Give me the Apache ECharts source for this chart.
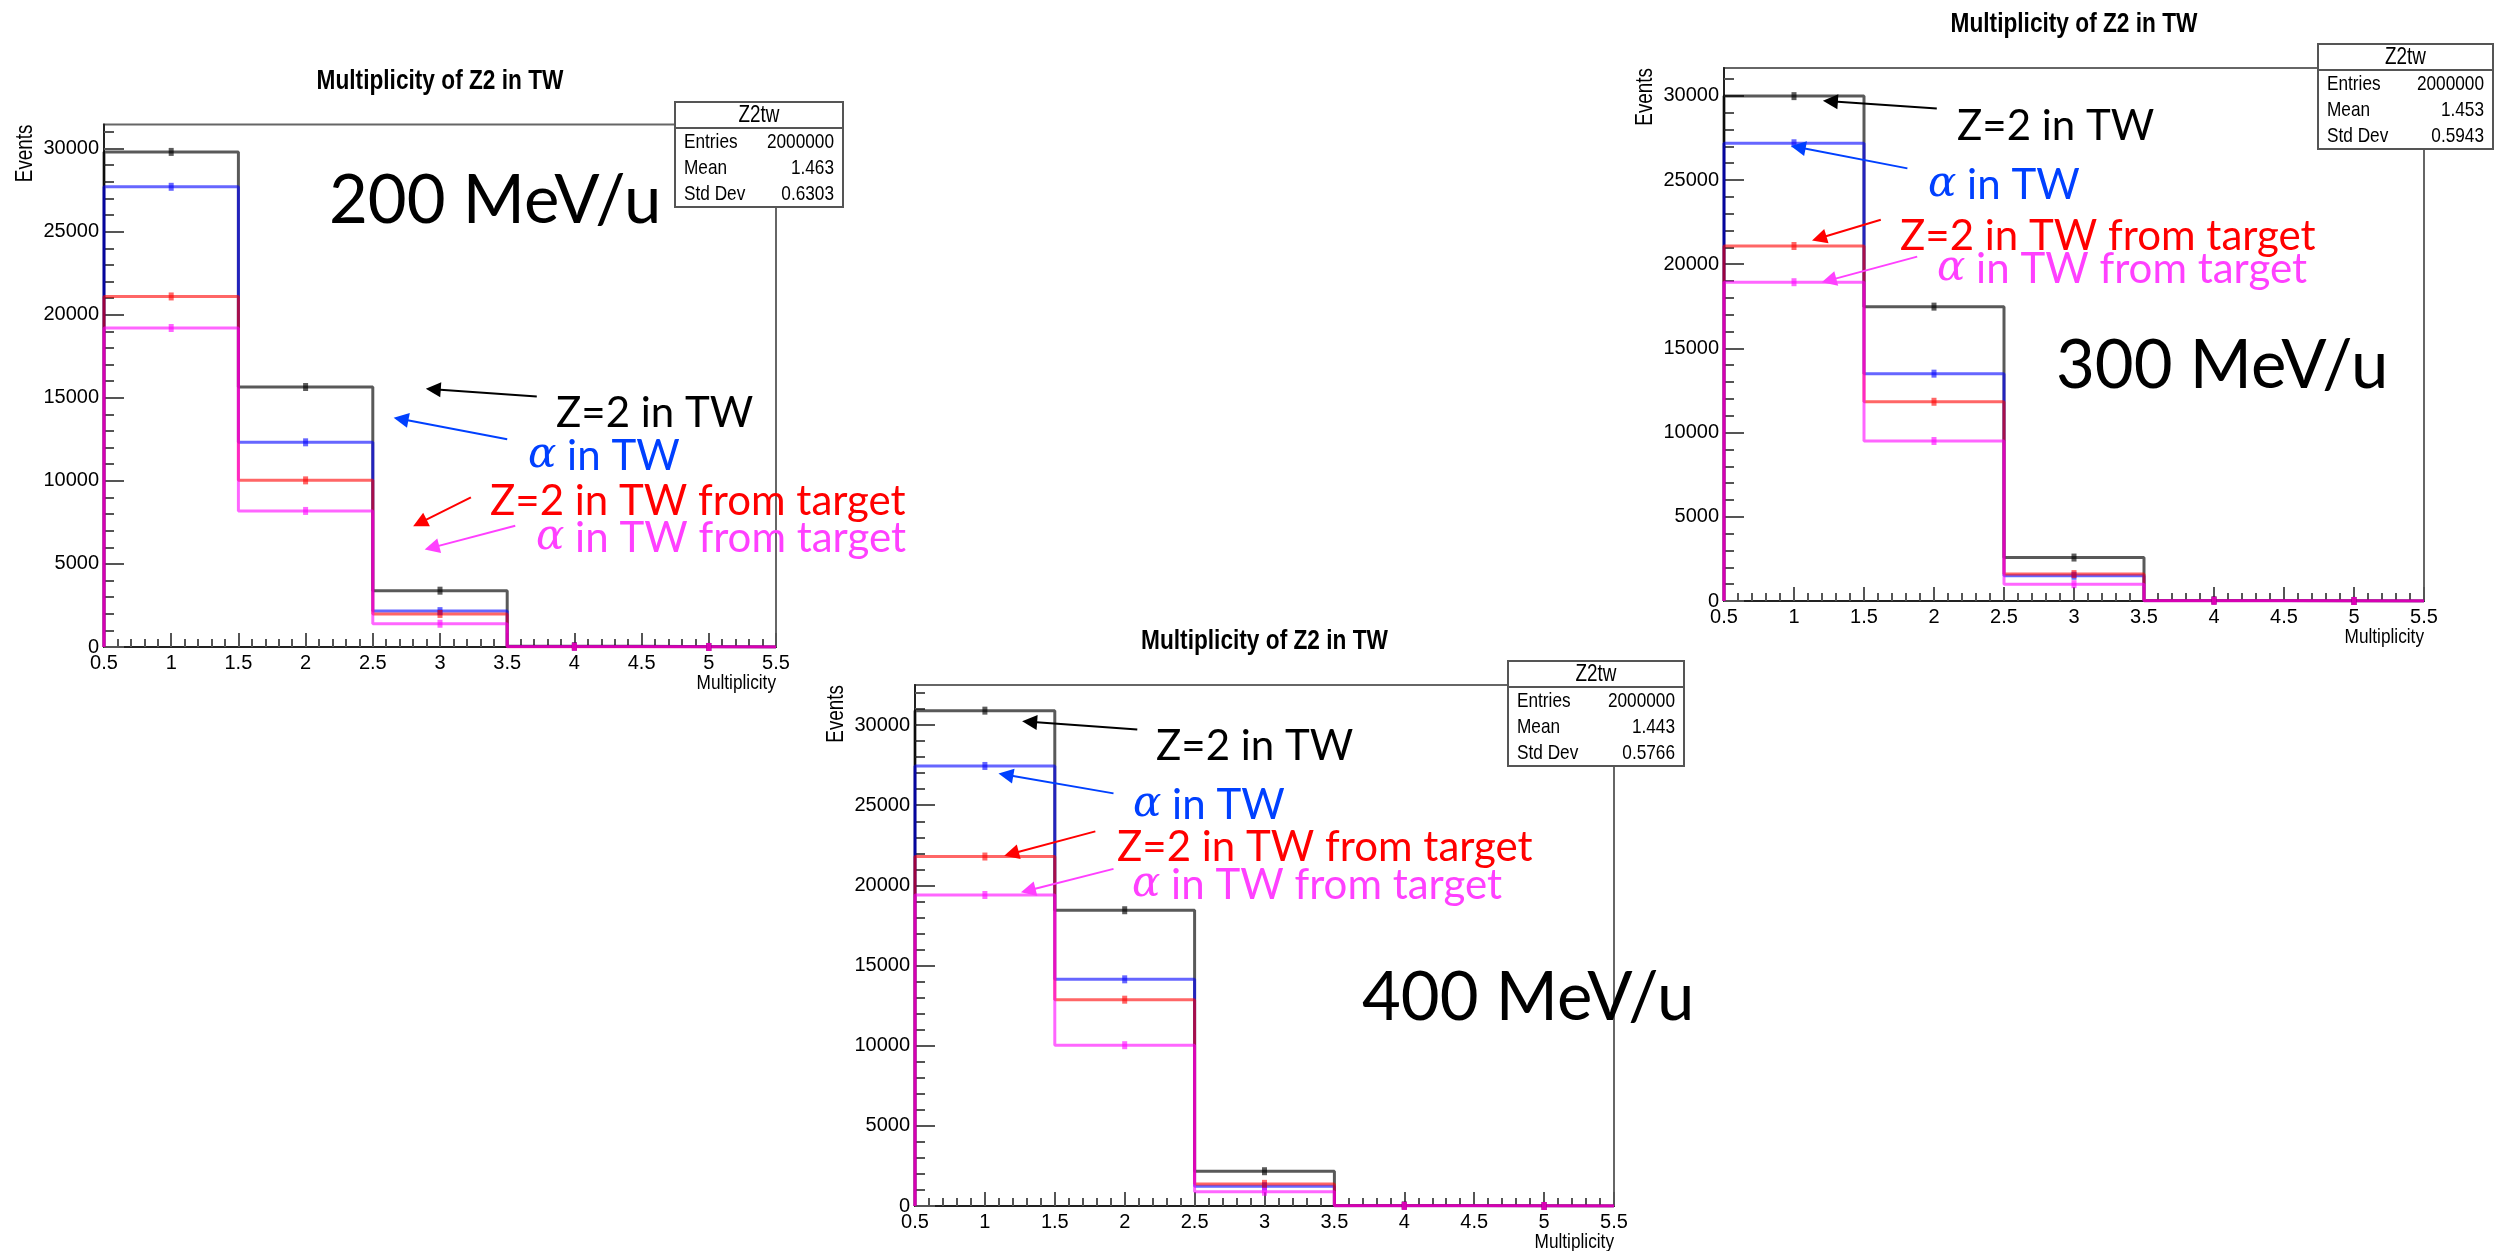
<!DOCTYPE html>
<html>
<head>
<meta charset="utf-8">
<script src="https://cdn.jsdelivr.net/npm/echarts@6/dist/echarts.min.js"></script>
<style>
  html, body { margin: 0; padding: 0; background: #ffffff; }
  #chart { width: 2503px; height: 1251px; }
</style>
</head>
<body>
<div id="chart"></div>
<script>
// ---- histogram binning (multiplicity bins centred on integers) ----
const multiplicity = [1, 2, 3, 4, 5];
const binWidth = 1;

const seriesNames = ['Z=2 in TW', 'α in TW', 'Z=2 in TW from target', 'α in TW from target'];
const energies = ['200 MeV/u', '300 MeV/u', '400 MeV/u'];

// ---- 200 MeV/u ----
const z2TW_200        = [29800, 15650, 3390, 40, 3];
const alphaTW_200     = [27700, 12320, 2160, 25, 2];
const z2Target_200    = [21100, 10030, 1990, 20, 1];
const alphaTarget_200 = [19200,  8190, 1400, 12, 1];

// ---- 300 MeV/u ----
const z2TW_300        = [29980, 17480, 2580, 35, 3];
const alphaTW_300     = [27180, 13500, 1500, 20, 2];
const z2Target_300    = [21080, 11830, 1600, 20, 1];
const alphaTarget_300 = [18930,  9500, 1000, 10, 1];

// ---- 400 MeV/u ----
const z2TW_400        = [30900, 18450, 2170, 30, 2];
const alphaTW_400     = [27450, 14140, 1230, 15, 1];
const z2Target_400    = [21800, 12870, 1380, 15, 1];
const alphaTarget_400 = [19400, 10030,  890,  8, 1];

// ---- statistics box ----
const statNames = ['Entries', 'Mean', 'Std Dev'];
const stats200 = ['2000000', '1.463', '0.6303'];
const stats300 = ['2000000', '1.453', '0.5943'];
const stats400 = ['2000000', '1.443', '0.5766'];

const histTitle = 'Multiplicity of Z2 in TW';
const statTitle = 'Z2tw';
const xTitle = 'Multiplicity';
const yTitle = 'Events';

// ---- styling ----
const histColors = ['rgba(0,0,0,0.65)', 'rgba(0,0,255,0.6)', 'rgba(255,0,0,0.6)', 'rgba(255,0,255,0.6)'];
const markColors = ['rgba(0,0,0,0.8)', 'rgba(0,0,255,0.75)', 'rgba(255,0,0,0.75)', 'rgba(255,0,255,0.75)'];
const noteColors = ['#000000', '#0040ff', '#ff0000', '#ff40ff'];
const rootFont = '"Liberation Sans", Arial, sans-serif';
const narrow = 0.82;          // horizontal squeeze for the ROOT-style captions
const noteFont = 'Lato, "Open Sans", sans-serif';

// ---- panel layout; arrows are given in (multiplicity, events) ----
const panels = [
  {
    energy: energies[0],
    hists: [z2TW_200, alphaTW_200, z2Target_200, alphaTarget_200],
    stats: stats200,
    yMax: 31450,
    frame: { left: 104, top: 124.5, width: 672, height: 522.5 },
    box: { x: 675, y: 102, w: 168, h: 105 },
    energyAt: [329, 201],
    notesAt: [[556, 413], [528, 456], [490, 501], [536, 538]],
    arrows: [
      [[3.72, 15080], [2.95, 15510]],
      [[3.50, 12500], [2.71, 13720]],
      [[3.23,  9010], [2.85,  7470]],
      [[3.56,  7300], [2.94,  5980]]
    ]
  },
  {
    energy: energies[1],
    hists: [z2TW_300, alphaTW_300, z2Target_300, alphaTarget_300],
    stats: stats300,
    yMax: 31650,
    frame: { left: 1724, top: 68, width: 700, height: 533 },
    box: { x: 2318, y: 44, w: 175, h: 105 },
    energyAt: [2056, 366],
    notesAt: [[1957, 126], [1928, 185], [1900, 236], [1937, 269]],
    arrows: [
      [[2.02, 29240], [1.26, 29670]],
      [[1.81, 25690], [1.03, 26940]],
      [[1.62, 22640], [1.18, 21540]],
      [[1.88, 20450], [1.25, 19040]]
    ]
  },
  {
    energy: energies[2],
    hists: [z2TW_400, alphaTW_400, z2Target_400, alphaTarget_400],
    stats: stats400,
    yMax: 32500,
    frame: { left: 915, top: 685, width: 699, height: 521 },
    box: { x: 1508, y: 661, w: 176, h: 105 },
    energyAt: [1362, 998],
    notesAt: [[1156, 746], [1133, 805], [1117, 847], [1132, 885]],
    arrows: [
      [[2.09, 29720], [1.32, 30200]],
      [[1.92, 25740], [1.15, 26900]],
      [[1.79, 23370], [1.19, 21970]],
      [[1.92, 21030], [1.31, 19680]]
    ]
  }
];

// histogram outline (ROOT "HIST" style) built from bin contents
function outline(values) {
  const half = binWidth / 2;
  const pts = [[multiplicity[0] - half, 0]];
  values.forEach(function (v, i) {
    pts.push([multiplicity[i] - half, v]);
    pts.push([multiplicity[i] + half, v]);
  });
  pts.push([multiplicity[multiplicity.length - 1] + half, 0]);
  return pts;
}

function caption(x, y, text, size, align, extra) {
  const el = {
    type: 'text', x: x, y: y, scaleX: narrow,
    style: { text: text, fontFamily: rootFont, fontSize: size, fill: '#000',
             align: align, verticalAlign: 'middle' }
  };
  return Object.assign(el, extra || {});
}

const grids = [], xAxes = [], yAxes = [], series = [], graphics = [];

panels.forEach(function (p, k) {
  const f = p.frame;
  grids.push({
    left: f.left, top: f.top, width: f.width, height: f.height,
    show: true, borderColor: '#666', borderWidth: 2, backgroundColor: 'transparent'
  });
  xAxes.push({
    type: 'value', gridIndex: k, min: 0.5, max: 5.5, interval: 0.5,
    axisLine: { show: true, onZero: false, lineStyle: { color: '#222', width: 2 } },
    axisTick: { show: true, inside: true, length: 14, lineStyle: { color: '#555', width: 2 } },
    minorTick: { show: true, splitNumber: 5, length: 8, lineStyle: { color: '#555', width: 2 } },
    splitLine: { show: false },
    axisLabel: { fontFamily: rootFont, fontSize: 20, color: '#000', margin: 6,
                 formatter: function (v) { return String(v); } }
  });
  const majors = [];
  for (let v = 0; v <= p.yMax; v += 5000) majors.push(v);
  yAxes.push({
    type: 'value', gridIndex: k, min: 0, max: p.yMax, interval: 5000,
    axisLine: { show: true, onZero: false, lineStyle: { color: '#222', width: 2 } },
    axisTick: { show: true, inside: true, length: 20, customValues: majors, lineStyle: { color: '#555', width: 2 } },
    minorTick: { show: true, splitNumber: 5, length: 10, lineStyle: { color: '#555', width: 2 } },
    splitLine: { show: false },
    axisLabel: {
      fontFamily: rootFont, fontSize: 20, color: '#000', margin: 5,
      customValues: majors,
      formatter: function (v) { return String(v); }
    }
  });

  p.hists.forEach(function (vals, i) {
    series.push({
      name: seriesNames[i], type: 'line', xAxisIndex: k, yAxisIndex: k,
      data: outline(vals), symbol: 'none', showSymbol: false,
      lineStyle: { color: histColors[i], width: 3 },
      z: 3 + i, animation: false, silent: true
    });
    series.push({
      name: seriesNames[i] + ' errors', type: 'scatter', xAxisIndex: k, yAxisIndex: k,
      data: vals.map(function (v, j) { return [multiplicity[j], v]; }),
      symbol: 'rect', symbolSize: [5, 8],
      itemStyle: { color: markColors[i] },
      z: 7 + i, animation: false, silent: true
    });
  });

  series.push({
    type: 'lines', coordinateSystem: 'cartesian2d', xAxisIndex: k, yAxisIndex: k,
    polyline: false, symbol: ['none', 'triangle'], symbolSize: [1, 15],
    data: p.arrows.map(function (a, i) {
      return { coords: a, lineStyle: { color: noteColors[i], width: 2, curveness: 0, opacity: 1 } };
    }),
    z: 12, animation: false, silent: true
  });

  // histogram title
  graphics.push({
    type: 'text', x: f.left + f.width / 2, y: f.top - 43, scaleX: 0.84,
    style: { text: histTitle, fontFamily: rootFont, fontSize: 27, fontWeight: 'bold', fill: '#000',
             align: 'center', verticalAlign: 'middle' }
  });
  // axis titles
  graphics.push(caption(f.left - 78, f.top, yTitle, 23, 'right', { rotation: Math.PI / 2 }));
  graphics.push(caption(f.left + f.width, f.top + f.height + 36, xTitle, 21, 'right'));
  // beam energy
  graphics.push({
    type: 'text', x: p.energyAt[0], y: p.energyAt[1], z: 20,
    style: { text: p.energy, fontFamily: noteFont, fontSize: 67, fill: '#000',
             align: 'left', verticalAlign: 'middle' }
  });
  // legend notes
  seriesNames.forEach(function (name, i) {
    const isAlpha = name.charAt(0) === 'α';
    const txt = isAlpha ? '{a|α}' + name.slice(1) : name;
    graphics.push({
      type: 'text', x: p.notesAt[i][0], y: p.notesAt[i][1], z: 20,
      style: {
        text: txt, fontFamily: noteFont, fontSize: 42, fill: noteColors[i],
        align: 'left', verticalAlign: 'middle',
        rich: { a: { fontFamily: '"DejaVu Serif", serif', fontStyle: 'italic', fontSize: 42, fill: noteColors[i] } }
      }
    });
  });
  // statistics box
  const b = p.box;
  const box = [
    { type: 'rect', shape: { x: b.x, y: b.y, width: b.w, height: b.h },
      style: { fill: '#fff', stroke: '#555', lineWidth: 2 } },
    { type: 'line', shape: { x1: b.x, y1: b.y + 26, x2: b.x + b.w, y2: b.y + 26 },
      style: { stroke: '#555', lineWidth: 2 } },
    caption(b.x + b.w / 2, b.y + 14, statTitle, 23, 'center')
  ];
  statNames.forEach(function (n, i) {
    const yy = b.y + 40 + i * 26;
    box.push(caption(b.x + 9, yy, n, 21, 'left'));
    box.push(caption(b.x + b.w - 9, yy, p.stats[i], 21, 'right'));
  });
  graphics.push({ type: 'group', z: 15, children: box });
});

const chart = echarts.init(document.getElementById('chart'), null, { renderer: 'canvas' });
chart.setOption({
  backgroundColor: '#ffffff',
  animation: false,
  grid: grids,
  xAxis: xAxes,
  yAxis: yAxes,
  series: series,
  graphic: { elements: graphics }
});
</script>
</body>
</html>
